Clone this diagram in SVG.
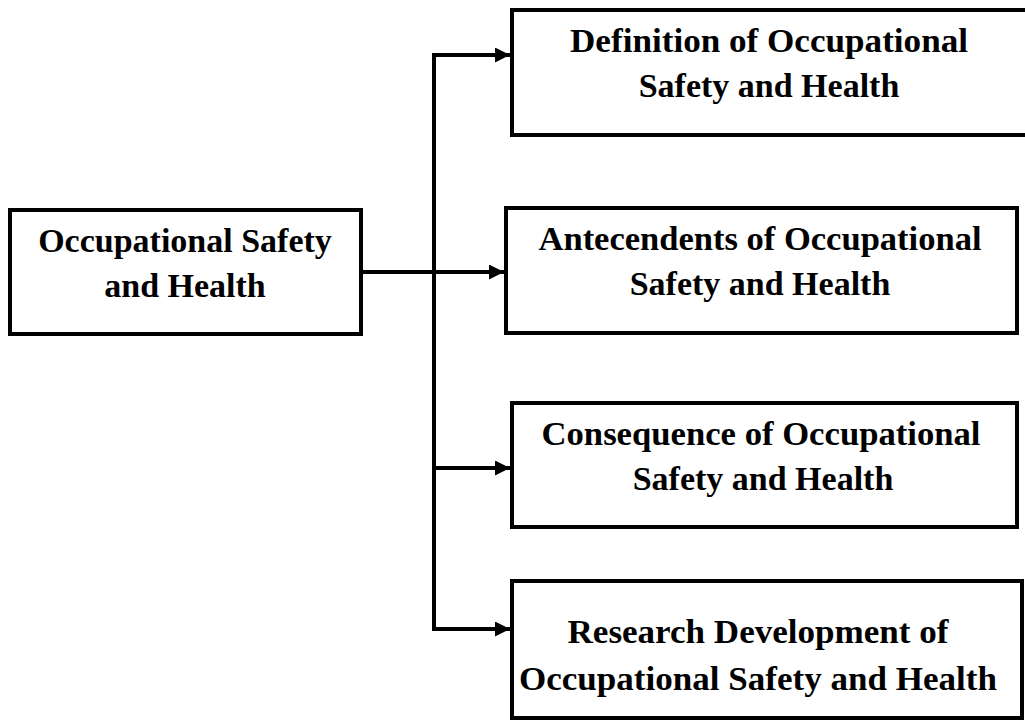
<svg xmlns="http://www.w3.org/2000/svg" width="1025" height="720" viewBox="0 0 1025 720">
<style>
.box{fill:#fff;stroke:#000;stroke-width:4}
.lbl{font-family:"Liberation Serif","Times New Roman",serif;font-weight:bold;font-size:34px;fill:#000;text-anchor:middle}
.conn{stroke:#000;stroke-width:4;fill:none}
</style>
<defs>
<marker id="arr" markerUnits="userSpaceOnUse" markerWidth="16" markerHeight="16" refX="15" refY="7.5" orient="auto">
<path d="M0,0 L15,7.5 L0,15 z" fill="#000"/>
</marker>
</defs>
<rect width="1025" height="720" fill="#fff"/>
<g id="connectors">
<line class="conn" x1="434" y1="53" x2="434" y2="631"/>
<line class="conn" x1="432" y1="55" x2="510" y2="55" marker-end="url(#arr)"/>
<line class="conn" x1="361" y1="272" x2="504" y2="272" marker-end="url(#arr)"/>
<line class="conn" x1="434" y1="468" x2="510" y2="468" marker-end="url(#arr)"/>
<line class="conn" x1="432" y1="629" x2="510" y2="629" marker-end="url(#arr)"/>
</g>
<g id="root">
<rect class="box" x="10" y="210" width="351" height="124"/>
<text class="lbl" x="185" y="252">Occupational Safety</text>
<text class="lbl" x="185" y="297">and Health</text>
</g>
<g id="definition">
<rect class="box" x="512" y="10" width="530" height="125"/>
<text class="lbl" x="769" y="52" textLength="398" lengthAdjust="spacingAndGlyphs">Definition of Occupational</text>
<text class="lbl" x="769" y="97">Safety and Health</text>
</g>
<g id="antecedents">
<rect class="box" x="506" y="208" width="511" height="125"/>
<text class="lbl" x="760" y="250" textLength="443" lengthAdjust="spacingAndGlyphs">Antecendents of Occupational</text>
<text class="lbl" x="760" y="295">Safety and Health</text>
</g>
<g id="consequence">
<rect class="box" x="512" y="403" width="505" height="124"/>
<text class="lbl" x="761" y="445" textLength="439" lengthAdjust="spacingAndGlyphs">Consequence of Occupational</text>
<text class="lbl" x="763" y="490">Safety and Health</text>
</g>
<g id="research">
<rect class="box" x="512" y="581" width="510" height="137"/>
<text class="lbl" x="758" y="643" textLength="381" lengthAdjust="spacingAndGlyphs">Research Development of</text>
<text class="lbl" x="758" y="690" textLength="478" lengthAdjust="spacingAndGlyphs">Occupational Safety and Health</text>
</g>
</svg>
